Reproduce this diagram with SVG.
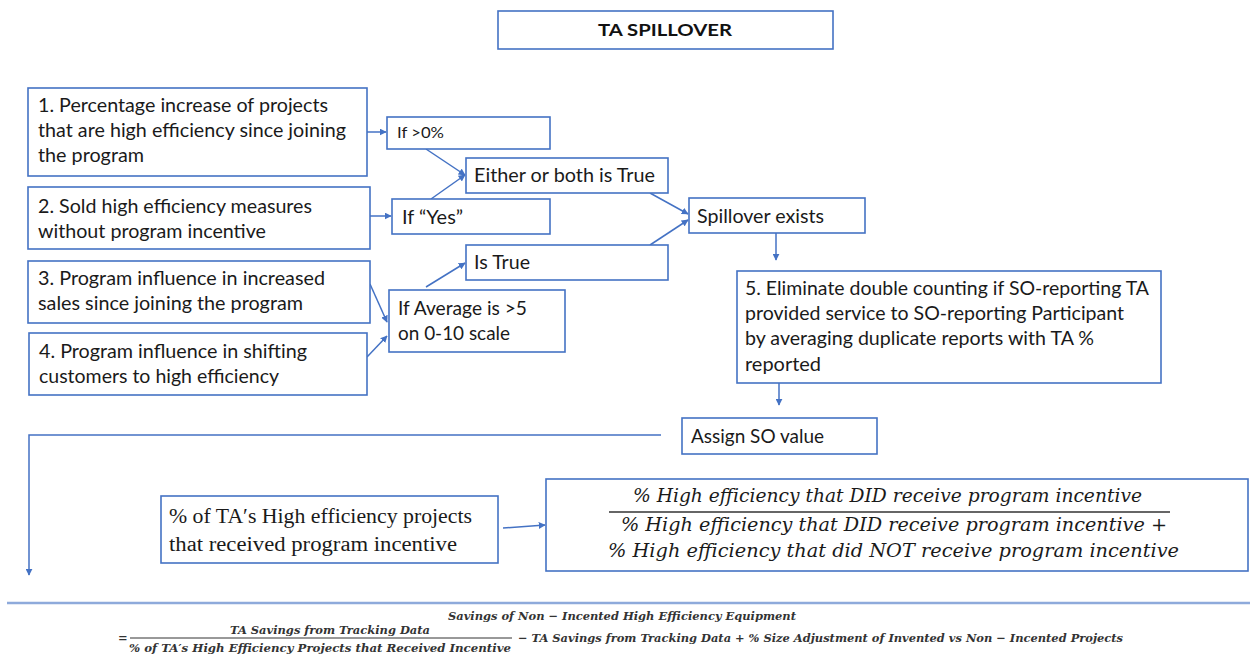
<svg xmlns="http://www.w3.org/2000/svg" width="1250" height="663" viewBox="0 0 1250 663">
<defs>
<marker id="ah" viewBox="0 0 10 10" refX="9" refY="5" markerWidth="7" markerHeight="7" orient="auto" markerUnits="userSpaceOnUse">
<path d="M0,0 L10,5 L0,10 z" fill="#4472c4"/>
</marker>
</defs>
<style>
.box{fill:#fff;stroke:#4472c4;stroke-width:1.6}
text{lengthAdjust:spacingAndGlyphs}
.t{font-family:Lato,"Liberation Sans",sans-serif;font-size:19px;fill:#1a1a1a}
.s{font-size:16px}
.ttl{font-family:Lato,"Liberation Sans",sans-serif;font-size:17px;font-weight:bold;fill:#111}
.sf{font-family:"Liberation Serif","DejaVu Serif",serif;font-size:20px;fill:#1a1a1a}
.mi{font-family:"DejaVu Serif","Liberation Serif",serif;font-style:italic;font-size:19px;fill:#1a1a1a}
.bf{font-family:"DejaVu Serif","Liberation Serif",serif;font-style:italic;font-weight:bold;font-size:11.5px;fill:#333}
.c{fill:none;stroke:#4472c4;stroke-width:1.5}
</style>
<rect width="1250" height="663" fill="#fff"/>

<g id="connectors">
<line class="c" x1="367" y1="132" x2="386" y2="132" marker-end="url(#ah)"/>
<line class="c" x1="370" y1="216" x2="391" y2="216" marker-end="url(#ah)"/>
<line class="c" x1="426" y1="149" x2="465" y2="175" marker-end="url(#ah)"/>
<line class="c" x1="431" y1="199" x2="465" y2="175" marker-end="url(#ah)"/>
<line class="c" x1="370" y1="284" x2="387" y2="322" marker-end="url(#ah)"/>
<line class="c" x1="367" y1="357" x2="387" y2="336" marker-end="url(#ah)"/>
<line class="c" x1="426" y1="287" x2="465" y2="263" marker-end="url(#ah)"/>
<line class="c" x1="650" y1="193" x2="688" y2="214" marker-end="url(#ah)"/>
<line class="c" x1="650" y1="245" x2="688" y2="220" marker-end="url(#ah)"/>
<line class="c" x1="776" y1="233" x2="776" y2="260" marker-end="url(#ah)"/>
<line class="c" x1="779" y1="383" x2="779" y2="405" marker-end="url(#ah)"/>
<polyline class="c" points="661,435 29,435 29,575" marker-end="url(#ah)"/>
<line class="c" x1="503" y1="528" x2="545" y2="525" marker-end="url(#ah)"/>
</g>

<g id="title">
<rect class="box" x="498" y="11" width="335" height="38"/>
<text class="ttl" x="665" y="36" text-anchor="middle" textLength="134" lengthAdjust="spacingAndGlyphs">TA SPILLOVER</text>
</g>

<g id="n1">
<rect class="box" x="28" y="88" width="339" height="88"/>
<text class="t" x="38" y="112" textLength="290" lengthAdjust="spacingAndGlyphs">1. Percentage increase of projects</text>
<text class="t" x="38" y="137" textLength="308" lengthAdjust="spacingAndGlyphs">that are high efficiency since joining</text>
<text class="t" x="38" y="162" textLength="106" lengthAdjust="spacingAndGlyphs">the program</text>
</g>

<g id="n2">
<rect class="box" x="28" y="187" width="342" height="62"/>
<text class="t" x="38" y="213" textLength="274" lengthAdjust="spacingAndGlyphs">2. Sold high efficiency measures</text>
<text class="t" x="38" y="238" textLength="228" lengthAdjust="spacingAndGlyphs">without program incentive</text>
</g>

<g id="n3">
<rect class="box" x="28" y="261" width="342" height="62"/>
<text class="t" x="38" y="285" textLength="287" lengthAdjust="spacingAndGlyphs">3. Program influence in increased</text>
<text class="t" x="38" y="310" textLength="265" lengthAdjust="spacingAndGlyphs">sales since joining the program</text>
</g>

<g id="n4">
<rect class="box" x="29" y="333" width="338" height="62"/>
<text class="t" x="39" y="358" textLength="268" lengthAdjust="spacingAndGlyphs">4. Program influence in shifting</text>
<text class="t" x="39" y="383" textLength="240" lengthAdjust="spacingAndGlyphs">customers to high efficiency</text>
</g>

<g id="c1">
<rect class="box" x="387" y="117" width="163" height="32"/>
<text class="t s" x="397" y="138" textLength="47" lengthAdjust="spacingAndGlyphs">If &gt;0%</text>
</g>

<g id="c2">
<rect class="box" x="392" y="199" width="158" height="35"/>
<text class="t" x="402" y="224" textLength="61" lengthAdjust="spacingAndGlyphs">If “Yes”</text>
</g>

<g id="c3">
<rect class="box" x="389" y="290" width="176" height="62"/>
<text class="t" x="398" y="315" textLength="129" lengthAdjust="spacingAndGlyphs">If Average is &gt;5</text>
<text class="t" x="398" y="340" textLength="112" lengthAdjust="spacingAndGlyphs">on 0-10 scale</text>
</g>

<g id="either">
<rect class="box" x="466" y="158" width="202" height="35"/>
<text class="t" x="474" y="182" textLength="181" lengthAdjust="spacingAndGlyphs">Either or both is True</text>
</g>

<g id="istrue">
<rect class="box" x="466" y="245" width="202" height="35"/>
<text class="t" x="474" y="269" textLength="56" lengthAdjust="spacingAndGlyphs">Is True</text>
</g>

<g id="spill">
<rect class="box" x="689" y="198" width="176" height="35"/>
<text class="t" x="697" y="223" textLength="127" lengthAdjust="spacingAndGlyphs">Spillover exists</text>
</g>

<g id="n5">
<rect class="box" x="737" y="271" width="424" height="112"/>
<text class="t" x="745" y="295" textLength="404" lengthAdjust="spacingAndGlyphs">5. Eliminate double counting if SO-reporting TA</text>
<text class="t" x="745" y="320" textLength="379" lengthAdjust="spacingAndGlyphs">provided service to SO-reporting Participant</text>
<text class="t" x="745" y="345" textLength="349" lengthAdjust="spacingAndGlyphs">by averaging duplicate reports with TA %</text>
<text class="t" x="745" y="371" textLength="76" lengthAdjust="spacingAndGlyphs">reported</text>
</g>

<g id="assign">
<rect class="box" x="682" y="418" width="195" height="36"/>
<text class="t" x="691" y="443" textLength="133" lengthAdjust="spacingAndGlyphs">Assign SO value</text>
</g>

<g id="pct">
<rect class="box" x="161" y="496" width="337" height="67"/>
<text class="sf" x="169" y="523" textLength="303" lengthAdjust="spacingAndGlyphs">% of TA′s High efficiency projects</text>
<text class="sf" x="169" y="551" textLength="288" lengthAdjust="spacingAndGlyphs">that received program incentive</text>
</g>

<g id="formula">
<rect class="box" x="546" y="479" width="702" height="92"/>
<text class="mi" x="633" y="502" textLength="509" lengthAdjust="spacingAndGlyphs">% High efficiency that DID receive program incentive</text>
<line x1="609" y1="512" x2="1170" y2="512" stroke="#333" stroke-width="1.5"/>
<text class="mi" x="621" y="531" textLength="546" lengthAdjust="spacingAndGlyphs">% High efficiency that DID receive program incentive  +</text>
<text class="mi" x="608" y="557" textLength="571" lengthAdjust="spacingAndGlyphs">% High efficiency that did NOT receive program incentive</text>
</g>

<g id="bottom">
<line x1="7" y1="603" x2="1250" y2="603" stroke="#8eaadb" stroke-width="2.5"/>
<text class="bf" x="448" y="620" textLength="348" lengthAdjust="spacingAndGlyphs">Savings of Non − Incented High Efficiency Equipment</text>
<text class="bf" x="118" y="642">=</text>
<text class="bf" x="230" y="634" textLength="200" lengthAdjust="spacingAndGlyphs">TA Savings from Tracking Data</text>
<line x1="130" y1="638" x2="512" y2="638" stroke="#333" stroke-width="1"/>
<text class="bf" x="129" y="652" textLength="382" lengthAdjust="spacingAndGlyphs">% of TA′s High Efficiency Projects that Received Incentive</text>
<text class="bf" x="518" y="642" textLength="605" lengthAdjust="spacingAndGlyphs">− TA Savings from Tracking Data  + % Size Adjustment of Invented vs Non − Incented Projects</text>
</g>
</svg>
